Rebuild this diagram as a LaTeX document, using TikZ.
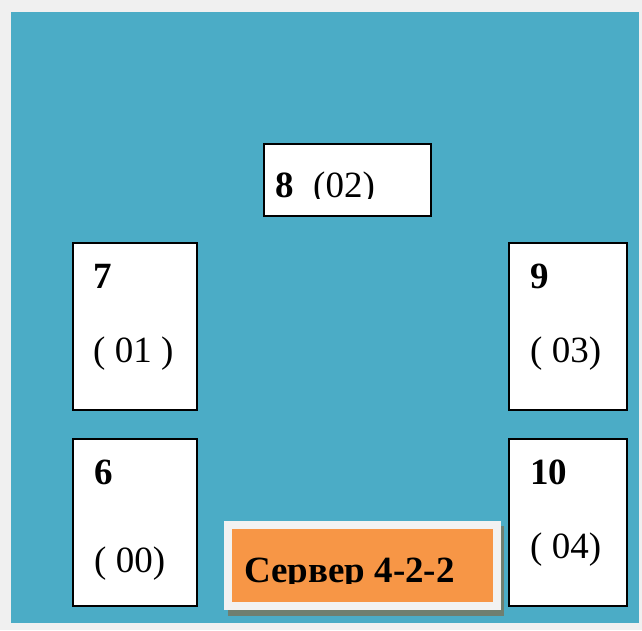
\documentclass[tikz,border=0pt]{standalone}
\usepackage{fontspec}
\setmainfont{Liberation Serif}
\definecolor{pagegrey}{HTML}{F0F0F0}
\definecolor{teal}{HTML}{4BACC6}
\definecolor{srvorange}{HTML}{F79646}
\definecolor{srvframe}{HTML}{F2F2F2}
\definecolor{srvshadow}{HTML}{6F7F70}
\tikzset{
  seat/.style={draw=black, line width=2pt, fill=white, inner sep=0pt, outer sep=0pt, anchor=north west},
  lbl/.style={anchor=base west, inner sep=0pt, font=\fontsize{37}{41}\selectfont},
  blbl/.style={lbl, font=\fontsize{37}{41}\selectfont\bfseries},
}
\begin{document}
\begin{tikzpicture}[x=1pt,y=-1pt]
\useasboundingbox (0,0) rectangle (642,630);
\fill[pagegrey] (0,0) rectangle (642,630);
\fill[teal] (11,12) rectangle (639,623);
% seats
\node[seat, minimum width=167pt, minimum height=72pt] (b8) at (264,144) {};
\node[seat, minimum width=124pt, minimum height=167pt] (b7) at (73,243) {};
\node[seat, minimum width=118pt, minimum height=167pt] (b9) at (509,243) {};
\node[seat, minimum width=124pt, minimum height=167pt] (b6) at (73,439) {};
\node[seat, minimum width=118pt, minimum height=167pt] (b10) at (509,439) {};
% labels
\begin{scope}
\clip (263,143) rectangle (432,198);
\node[blbl] (t8) at (275,197) {8};
\node[lbl] (t8b) at (313,197) {(02)};
\end{scope}
\node[blbl] (t7) at (93,288) {7};
\node[lbl] (t7b) at (93,362) {( 01 )};
\node[blbl] (t9) at (530,288) {9};
\node[lbl] (t9b) at (530,362) {( 03)};
\node[blbl] (t6) at (94,484) {6};
\node[lbl] (t6b) at (94,572) {( 00)};
\node[blbl] (t10) at (530,484) {10};
\node[lbl] (t10b) at (530,558) {( 04)};
% server
\fill[srvshadow] (228,526) rectangle (504,616);
\fill[srvframe] (224,521) rectangle (501,610);
\fill[srvorange] (232,529) rectangle (493,602);
\begin{scope}
\clip (232,529) rectangle (493,583);
\node[blbl] (srv) at (244,582) {Сервер 4-2-2};
\end{scope}
\end{tikzpicture}
\end{document}
